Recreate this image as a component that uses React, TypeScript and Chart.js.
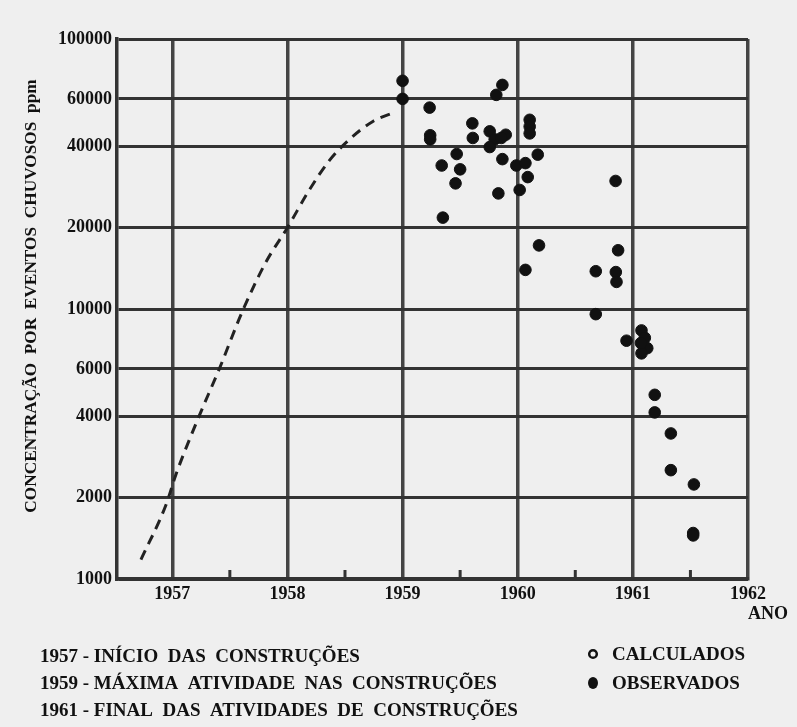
import React, { useEffect, useRef } from "react";
import { Chart, registerables } from "chart.js";
Chart.register(...registerables);

const yearTicks = [1957, 1958, 1959, 1960, 1961, 1962];
const minorYearTicks = [1957.5, 1958.5, 1959.5, 1960.5, 1961.5];
const concTicks = [1000, 2000, 4000, 6000, 10000, 20000, 40000, 60000, 100000];

const obsYears = [
  1959.0, 1959.0, 1959.235, 1959.24, 1959.24, 1959.606, 1959.61, 1959.47, 1959.34, 1959.5,
  1959.46, 1959.35, 1959.757, 1959.8, 1959.896, 1959.757, 1959.858, 1959.814, 1959.867, 1959.867,
  1959.832, 1959.988, 1960.067, 1960.087, 1960.017, 1960.174, 1960.104, 1960.104, 1960.104, 1960.185,
  1960.067, 1960.85, 1960.872, 1960.678, 1960.852, 1960.858, 1960.678, 1960.945, 1961.075, 1961.104,
  1961.125, 1961.075, 1961.07, 1961.19, 1961.19, 1961.33, 1961.33, 1961.53, 1961.524, 1961.524,
];
const obsValues = [
  70000, 60000, 55700, 44000, 42500, 48700, 43000, 37500, 34000, 32900,
  29200, 21800, 45500, 42500, 44200, 39800, 43000, 62100, 67600, 35900,
  26800, 34000, 34700, 30800, 27600, 37300, 50200, 47400, 44700, 17200,
  13960, 29800, 16500, 13800, 13700, 12600, 9570, 7630, 8330, 7820,
  7160, 6850, 7480, 4810, 4140, 3460, 2530, 2240, 1480, 1450,
];

const calcYears = [1956.728, 1956.945, 1957.032, 1957.22, 1957.409, 1957.611, 1957.815, 1958.0, 1958.19, 1958.365, 1958.539, 1958.742, 1958.945];
const calcValues = [1180, 1880, 2440, 3890, 6010, 9850, 14960, 20000, 27600, 35500, 42500, 49500, 53800];

const notes = [
  "1957 - INÍCIO  DAS  CONSTRUÇÕES",
  "1959 - MÁXIMA  ATIVIDADE  NAS  CONSTRUÇÕES",
  "1961 - FINAL  DAS  ATIVIDADES  DE  CONSTRUÇÕES",
];
const legendLabels = ["CALCULADOS", "OBSERVADOS"];
const yTitle = "CONCENTRAÇÃO  POR  EVENTOS  CHUVOSOS  ppm";
const xTitle = "ANO";

const FONT = '"Liberation Serif", "DejaVu Serif", serif';
const INK = "#111";
const GRID = "#333";

const extrasPlugin = {
  id: "extras",
  afterDraw(chart: any) {
    const ctx = chart.ctx;
    const xs = chart.scales.x;
    const area = chart.chartArea;
    ctx.save();
    // minor ticks
    ctx.strokeStyle = GRID;
    ctx.lineWidth = 3;
    minorYearTicks.forEach((v) => {
      const px = xs.getPixelForValue(v);
      ctx.beginPath();
      ctx.moveTo(px, area.bottom);
      ctx.lineTo(px, area.bottom - 9);
      ctx.stroke();
    });
    ctx.fillStyle = INK;
    // y title
    ctx.save();
    ctx.translate(32, 296);
    ctx.rotate(-Math.PI / 2);
    ctx.font = `bold 17.3px ${FONT}`;
    ctx.textAlign = "center";
    ctx.textBaseline = "middle";
    ctx.fillText(yTitle, 0, 0);
    ctx.restore();
    // x title
    ctx.font = `bold 18px ${FONT}`;
    ctx.textAlign = "center";
    ctx.textBaseline = "middle";
    ctx.fillText(xTitle, 768, 614);
    // notes
    ctx.textAlign = "left";
    ctx.font = `bold 19px ${FONT}`;
    notes.forEach((t, i) => ctx.fillText(t, 40, 657 + i * 27));
    // legend
    ctx.font = `bold 19px ${FONT}`;
    const ly = [655, 684];
    ctx.fillText(legendLabels[0], 612, ly[0]);
    ctx.fillText(legendLabels[1], 612, ly[1]);
    ctx.lineWidth = 2.5;
    ctx.strokeStyle = INK;
    ctx.beginPath();
    ctx.arc(593, ly[0] - 1, 3.8, 0, Math.PI * 2);
    ctx.stroke();
    ctx.beginPath();
    ctx.ellipse(593, ly[1] - 1, 5, 6, 0, 0, Math.PI * 2);
    ctx.fill();
    ctx.restore();
  },
};

export default function App() {
  const ref = useRef<HTMLCanvasElement | null>(null);
  useEffect(() => {
    if (!ref.current) return;
    const chart = new Chart(ref.current, {
      type: "scatter",
      data: {
        datasets: [
          {
            label: "OBSERVADOS",
            data: obsYears.map((x, i) => ({ x, y: obsValues[i] })),
            backgroundColor: INK,
            borderColor: INK,
            pointRadius: 5.8,
            pointHoverRadius: 5.8,
            pointStyle: "circle",
          },
          {
            label: "CALCULADOS",
            data: calcYears.map((x, i) => ({ x, y: calcValues[i] })),
            showLine: true,
            borderColor: "#222",
            borderWidth: 3,
            borderDash: [10, 7],
            pointRadius: 0,
            cubicInterpolationMode: "monotone",
          } as any,
        ],
      },
      options: {
        responsive: false,
        animation: false,
        layout: { padding: { top: 39, right: 49, left: 0, bottom: 0 } },
        plugins: { legend: { display: false }, tooltip: { enabled: false } },
        scales: {
          x: {
            type: "linear",
            min: 1956.52,
            max: 1962,
            afterBuildTicks: (s: any) => {
              s.ticks = yearTicks.map((v) => ({ value: v }));
            },
            afterFit: (s: any) => {
              s.height = 148;
            },
            grid: { color: "#444", lineWidth: 3.5, drawTicks: false },
            border: { display: true, color: GRID, width: 3.5 },
            ticks: {
              color: INK,
              font: { family: FONT, size: 18, weight: "bold" },
              padding: 5,
              maxRotation: 0,
              callback: (v: any) => String(v),
            },
          },
          y: {
            type: "logarithmic",
            min: 1000,
            max: 100000,
            afterBuildTicks: (s: any) => {
              s.ticks = concTicks.map((v) => ({ value: v }));
            },
            afterFit: (s: any) => {
              s.width = 117;
            },
            grid: { color: GRID, lineWidth: 3, drawTicks: false },
            border: { display: true, color: GRID, width: 3.5 },
            ticks: {
              color: INK,
              font: { family: FONT, size: 18, weight: "bold" },
              padding: 5,
              callback: (v: any) => String(v),
            },
          },
        },
      },
      plugins: [extrasPlugin],
    });
    return () => chart.destroy();
  }, []);
  return (
    <div style={{ position: "fixed", left: 0, top: 0, width: 797, height: 727, background: "#efefef" }}>
      <canvas ref={ref} width={797} height={727} style={{ display: "block" }} />
    </div>
  );
}
